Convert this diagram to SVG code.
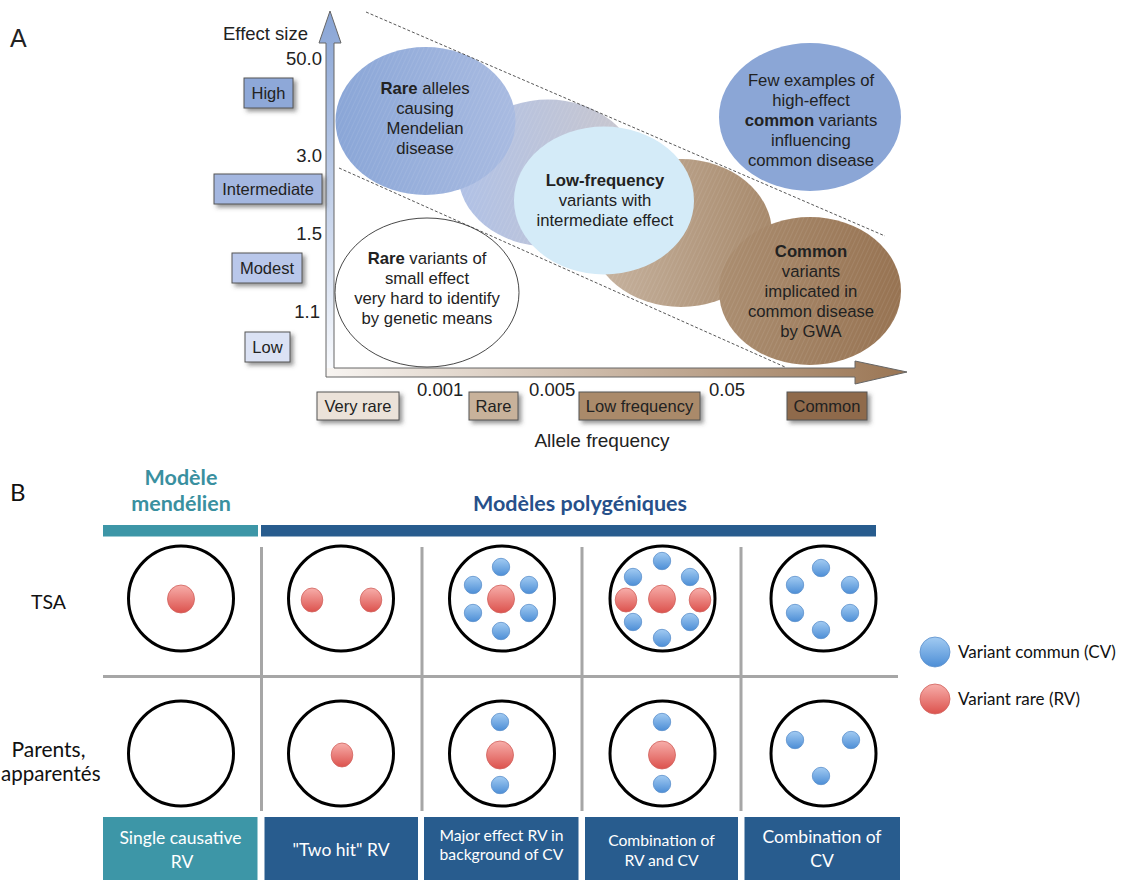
<svg xmlns="http://www.w3.org/2000/svg" width="1126" height="880" viewBox="0 0 1126 880">
<style>
.a{font-family:"Liberation Sans",Arial,sans-serif;fill:#222}
.num{font-size:18.5px}
.lbl{font-size:16.5px;text-anchor:middle}
.ell{font-size:16.7px;text-anchor:middle}
.b{font-weight:bold}
.box{stroke:#555;stroke-width:1;filter:url(#sh)}
.dash{stroke:#444;stroke-width:0.9;stroke-dasharray:3 2;fill:none}
.c{font-family:Lato,"Open Sans",sans-serif}
.grid{stroke:#a6a6a6;stroke-width:3;fill:none}
.ring{fill:none;stroke:#000;stroke-width:3}
.cv{fill:url(#gb);stroke:#5b8fcb;stroke-width:0.8}
.rv{fill:url(#gr);stroke:#d0625d;stroke-width:0.8}
.bt{font-size:17.5px;fill:#fff;text-anchor:middle}
.bs{font-size:15.7px}
.hat{fill:url(#hatch)}
</style>
<defs>
<filter id="sh" x="-20%" y="-20%" width="150%" height="170%">
<feDropShadow dx="3" dy="3" stdDeviation="2" flood-color="#444" flood-opacity="0.55"/>
</filter>
<linearGradient id="gv" x1="0" y1="0" x2="0" y2="1">
<stop offset="0" stop-color="#88a4d5"/><stop offset="1" stop-color="#fbfcfe"/>
</linearGradient>
<linearGradient id="gh" x1="0" y1="0" x2="1" y2="0">
<stop offset="0" stop-color="#f8f5f2"/><stop offset="1" stop-color="#9a7553"/>
</linearGradient>
<linearGradient id="e1" x1="0" y1="0" x2="1" y2="0">
<stop offset="0" stop-color="#8aa6d7"/><stop offset="1" stop-color="#a9bbe1"/>
</linearGradient>
<linearGradient id="e2" x1="0" y1="0" x2="1" y2="0">
<stop offset="0" stop-color="#b0c1e6"/><stop offset="1" stop-color="#cac7cd"/>
</linearGradient>
<linearGradient id="e3" x1="0" y1="0" x2="1" y2="0">
<stop offset="0" stop-color="#c8b5a2"/><stop offset="1" stop-color="#a7896b"/>
</linearGradient>
<linearGradient id="e5" x1="0" y1="0" x2="1" y2="0">
<stop offset="0" stop-color="#ab8e71"/><stop offset="1" stop-color="#977352"/>
</linearGradient>
<linearGradient id="gb" x1="0" y1="0" x2="0" y2="1">
<stop offset="0" stop-color="#a2cbf2"/><stop offset="1" stop-color="#4d8ed6"/>
</linearGradient>
<linearGradient id="gr" x1="0" y1="0" x2="0" y2="1">
<stop offset="0" stop-color="#f7aeaa"/><stop offset="1" stop-color="#dc524d"/>
</linearGradient>
<pattern id="hatch" width="4" height="4" patternUnits="userSpaceOnUse" patternTransform="rotate(25)">
<line x1="0" y1="0" x2="0" y2="4" stroke="#fff" stroke-width="0.8" stroke-opacity="0.2"/>
</pattern>
</defs>
<rect width="1126" height="880" fill="#fff"/>

<!-- Panel A -->
<text class="a" x="10" y="47" font-size="25">A</text>

<g id="axes">
<polygon points="326,377 326,43 319,43 330,11 341,43 334,43 334,377" fill="url(#gv)"/>
<polygon points="326,368 855,368 855,361 907,372 855,384 855,377 326,377" fill="url(#gh)"/>
<polygon points="326,43 319,43 330,11 341,43 334,43 334,368 855,368 855,361 907,372 855,384 855,377 326,377" fill="none" stroke="#666" stroke-width="1"/>
</g>

<text class="a num" x="223" y="40">Effect size</text>
<text class="a num" x="322" y="65" text-anchor="end">50.0</text>
<text class="a num" x="322" y="162" text-anchor="end">3.0</text>
<text class="a num" x="322" y="240" text-anchor="end">1.5</text>
<text class="a num" x="320" y="318" text-anchor="end">1.1</text>
<text class="a num" x="417" y="396">0.001</text>
<text class="a num" x="529" y="396">0.005</text>
<text class="a num" x="709" y="396">0.05</text>
<text class="a" x="602" y="447" font-size="19" text-anchor="middle">Allele frequency</text>

<g id="box-high"><rect class="box" x="244" y="78" width="49" height="30" fill="#8ea8d8"/><text class="a lbl" x="268.5" y="99">High</text></g>
<g id="box-intermediate"><rect class="box" x="214" y="174" width="108" height="30" fill="#a4b7e0"/><text class="a lbl" x="268" y="195">Intermediate</text></g>
<g id="box-modest"><rect class="box" x="232" y="253" width="70" height="30" fill="#b9c7ea"/><text class="a lbl" x="267" y="274">Modest</text></g>
<g id="box-low"><rect class="box" x="245" y="332" width="45" height="30" fill="#dbe2f4"/><text class="a lbl" x="267.5" y="353">Low</text></g>
<g id="box-veryrare"><rect class="box" x="317" y="392" width="82" height="28" fill="#ebe2d9"/><text class="a lbl" x="358" y="412">Very rare</text></g>
<g id="box-rare"><rect class="box" x="469" y="392" width="49" height="28" fill="#c8b29b"/><text class="a lbl" x="493.5" y="412">Rare</text></g>
<g id="box-lowfreq"><rect class="box" x="579" y="392" width="121" height="28" fill="#aa8a6b"/><text class="a lbl" x="639.5" y="412">Low frequency</text></g>
<g id="box-common"><rect class="box" x="787" y="392" width="80" height="28" fill="#8f6b4b"/><text class="a lbl" x="827" y="412">Common</text></g>

<g id="ell-mid-blue"><ellipse cx="548" cy="173" rx="90" ry="73.5" fill="url(#e2)"/><ellipse class="hat" cx="548" cy="173" rx="90" ry="73.5"/></g>
<g id="ell-mid-brown"><ellipse cx="681" cy="233" rx="91" ry="74" fill="url(#e3)"/><ellipse class="hat" cx="681" cy="233" rx="91" ry="74"/></g>
<g id="ell-rare-alleles">
<ellipse cx="425.5" cy="121" rx="90" ry="74" fill="url(#e1)"/><ellipse class="hat" cx="425.5" cy="121" rx="90" ry="74"/>
<text class="a ell" x="425" y="94"><tspan class="b">Rare</tspan> alleles</text>
<text class="a ell" x="425" y="114">causing</text>
<text class="a ell" x="425" y="134">Mendelian</text>
<text class="a ell" x="425" y="154">disease</text>
</g>
<g id="ell-lowfreq">
<ellipse cx="604" cy="200.5" rx="90" ry="74" fill="#d4ebf8"/>
<text class="a ell b" x="605" y="186">Low-frequency</text>
<text class="a ell" x="605" y="206">variants with</text>
<text class="a ell" x="605" y="226">intermediate effect</text>
</g>
<g id="ell-common">
<ellipse cx="810" cy="291" rx="91" ry="74" fill="url(#e5)"/><ellipse class="hat" cx="810" cy="291" rx="91" ry="74"/>
<text class="a ell b" x="811" y="257">Common</text>
<text class="a ell" x="811" y="277">variants</text>
<text class="a ell" x="811" y="297">implicated in</text>
<text class="a ell" x="811" y="317">common disease</text>
<text class="a ell" x="811" y="337">by GWA</text>
</g>
<g id="ell-few">
<ellipse cx="810" cy="117" rx="91" ry="74" fill="#8ba6d6"/>
<text class="a ell" x="811" y="86">Few examples of</text>
<text class="a ell" x="811" y="106">high-effect</text>
<text class="a ell" x="811" y="126"><tspan class="b">common</tspan> variants</text>
<text class="a ell" x="811" y="146">influencing</text>
<text class="a ell" x="811" y="166">common disease</text>
</g>
<g id="ell-small">
<ellipse cx="427" cy="292.5" rx="92" ry="74.5" fill="#fff" stroke="#333" stroke-width="0.9"/>
<text class="a ell" x="427" y="264"><tspan class="b">Rare</tspan> variants of</text>
<text class="a ell" x="427" y="284">small effect</text>
<text class="a ell" x="427" y="304">very hard to identify</text>
<text class="a ell" x="427" y="324">by genetic means</text>
</g>

<g id="dashed">
<line class="dash" x1="366" y1="12" x2="885" y2="236"/>
<line class="dash" x1="339" y1="168" x2="785" y2="367"/>
</g>

<!-- Panel B -->
<text class="c" x="10" y="501" font-size="24" fill="#111">B</text>
<text class="c b" x="181" y="485" font-size="21.5" fill="#3a90a0" text-anchor="middle">Modèle</text>
<text class="c b" x="181" y="511" font-size="21.5" fill="#3a90a0" text-anchor="middle">mendélien</text>
<text class="c b" x="580" y="511" font-size="21.5" fill="#27508a" text-anchor="middle">Modèles polygéniques</text>
<rect x="103" y="525" width="155" height="11.5" fill="#3d96a7"/>
<rect x="261" y="525" width="615" height="11.5" fill="#285c8e"/>

<text class="c" x="48.5" y="609" font-size="19.5" fill="#111" text-anchor="middle">TSA</text>
<text class="c" x="48.5" y="757" font-size="21" fill="#111" text-anchor="middle">Parents,</text>
<text class="c" x="1" y="781" font-size="20.5" fill="#111">apparentés</text>

<g id="grid">
<line class="grid" x1="103" y1="676.5" x2="898" y2="676.5" stroke-width="4"/>
<line class="grid" x1="261.5" y1="547" x2="261.5" y2="811"/>
<line class="grid" x1="422" y1="547" x2="422" y2="811"/>
<line class="grid" x1="582" y1="547" x2="582" y2="811"/>
<line class="grid" x1="741" y1="547" x2="741" y2="811"/>
</g>

<g id="tsa-1"><circle class="ring" cx="181" cy="598.5" r="52.5"/><ellipse class="rv" cx="181" cy="599" rx="13.5" ry="14"/></g>
<g id="tsa-2"><circle class="ring" cx="341" cy="598.5" r="52.5"/><ellipse class="rv" cx="312" cy="600" rx="10.8" ry="12"/><ellipse class="rv" cx="371" cy="600" rx="10.8" ry="12"/></g>
<g id="tsa-3"><circle class="ring" cx="502" cy="598.5" r="52.5"/>
<ellipse class="rv" cx="501" cy="599" rx="13.5" ry="14"/>
<circle class="cv" cx="501" cy="567" r="8.7"/><circle class="cv" cx="473" cy="585" r="8.7"/><circle class="cv" cx="529" cy="585" r="8.7"/>
<circle class="cv" cx="473" cy="613" r="8.7"/><circle class="cv" cx="529" cy="613" r="8.7"/><circle class="cv" cx="501" cy="631" r="8.7"/></g>
<g id="tsa-4"><circle class="ring" cx="662.5" cy="598.5" r="52.5"/>
<ellipse class="rv" cx="662" cy="599" rx="13.5" ry="14"/><ellipse class="rv" cx="626" cy="600" rx="10.8" ry="12"/><ellipse class="rv" cx="700" cy="600" rx="10.8" ry="12"/>
<circle class="cv" cx="662" cy="561" r="8.7"/><circle class="cv" cx="633" cy="577" r="8.7"/><circle class="cv" cx="690" cy="577" r="8.7"/>
<circle class="cv" cx="633" cy="622" r="8.7"/><circle class="cv" cx="690" cy="622" r="8.7"/><circle class="cv" cx="662" cy="638" r="8.7"/></g>
<g id="tsa-5"><circle class="ring" cx="823.5" cy="598.5" r="52.5"/>
<circle class="cv" cx="821" cy="568" r="8.7"/><circle class="cv" cx="795" cy="585" r="8.7"/><circle class="cv" cx="850" cy="585" r="8.7"/>
<circle class="cv" cx="795" cy="613" r="8.7"/><circle class="cv" cx="850" cy="613" r="8.7"/><circle class="cv" cx="821" cy="630" r="8.7"/></g>

<g id="par-1"><circle class="ring" cx="181" cy="753.5" r="52.5"/></g>
<g id="par-2"><circle class="ring" cx="341" cy="753.5" r="52.5"/><ellipse class="rv" cx="342" cy="755" rx="10.8" ry="12"/></g>
<g id="par-3"><circle class="ring" cx="502" cy="753.5" r="52.5"/><circle class="cv" cx="500" cy="722" r="8.7"/><ellipse class="rv" cx="500" cy="755" rx="13.5" ry="14"/><circle class="cv" cx="500" cy="785" r="8.7"/></g>
<g id="par-4"><circle class="ring" cx="662.5" cy="753.5" r="52.5"/><circle class="cv" cx="662" cy="722" r="8.7"/><ellipse class="rv" cx="662" cy="755" rx="13.5" ry="14"/><circle class="cv" cx="662" cy="784" r="8.7"/></g>
<g id="par-5"><circle class="ring" cx="823.5" cy="753.5" r="52.5"/><circle class="cv" cx="795" cy="740" r="8.7"/><circle class="cv" cx="851" cy="740" r="8.7"/><circle class="cv" cx="821" cy="776" r="8.7"/></g>

<g id="lab-1"><rect x="103" y="817" width="154.5" height="63" fill="#3d96a7"/><text class="c bt" x="180.5" y="844">Single causative</text><text class="c bt" x="182" y="868">RV</text></g>
<g id="lab-2"><rect x="264.5" y="817" width="153.5" height="63" fill="#285c8e"/><text class="c bt" x="341" y="856">"Two hit" RV</text></g>
<g id="lab-3"><rect x="424" y="817" width="154.5" height="63" fill="#285c8e"/><text class="c bt bs" x="501.5" y="841">Major effect RV in</text><text class="c bt bs" x="501.5" y="860">background of CV</text></g>
<g id="lab-4"><rect x="585" y="817" width="153" height="63" fill="#285c8e"/><text class="c bt bs" x="661.5" y="846">Combination of</text><text class="c bt bs" x="661.5" y="866">RV and CV</text></g>
<g id="lab-5"><rect x="744.5" y="817" width="155.5" height="63" fill="#285c8e"/><text class="c bt" x="822" y="843">Combination of</text><text class="c bt" x="822" y="867">CV</text></g>

<g id="legend">
<circle class="cv" cx="935" cy="652" r="15"/>
<text class="c" x="958" y="658" font-size="17" fill="#111">Variant commun (CV)</text>
<circle class="rv" cx="935" cy="699" r="15"/>
<text class="c" x="958" y="705" font-size="17" fill="#111">Variant rare (RV)</text>
</g>
</svg>
